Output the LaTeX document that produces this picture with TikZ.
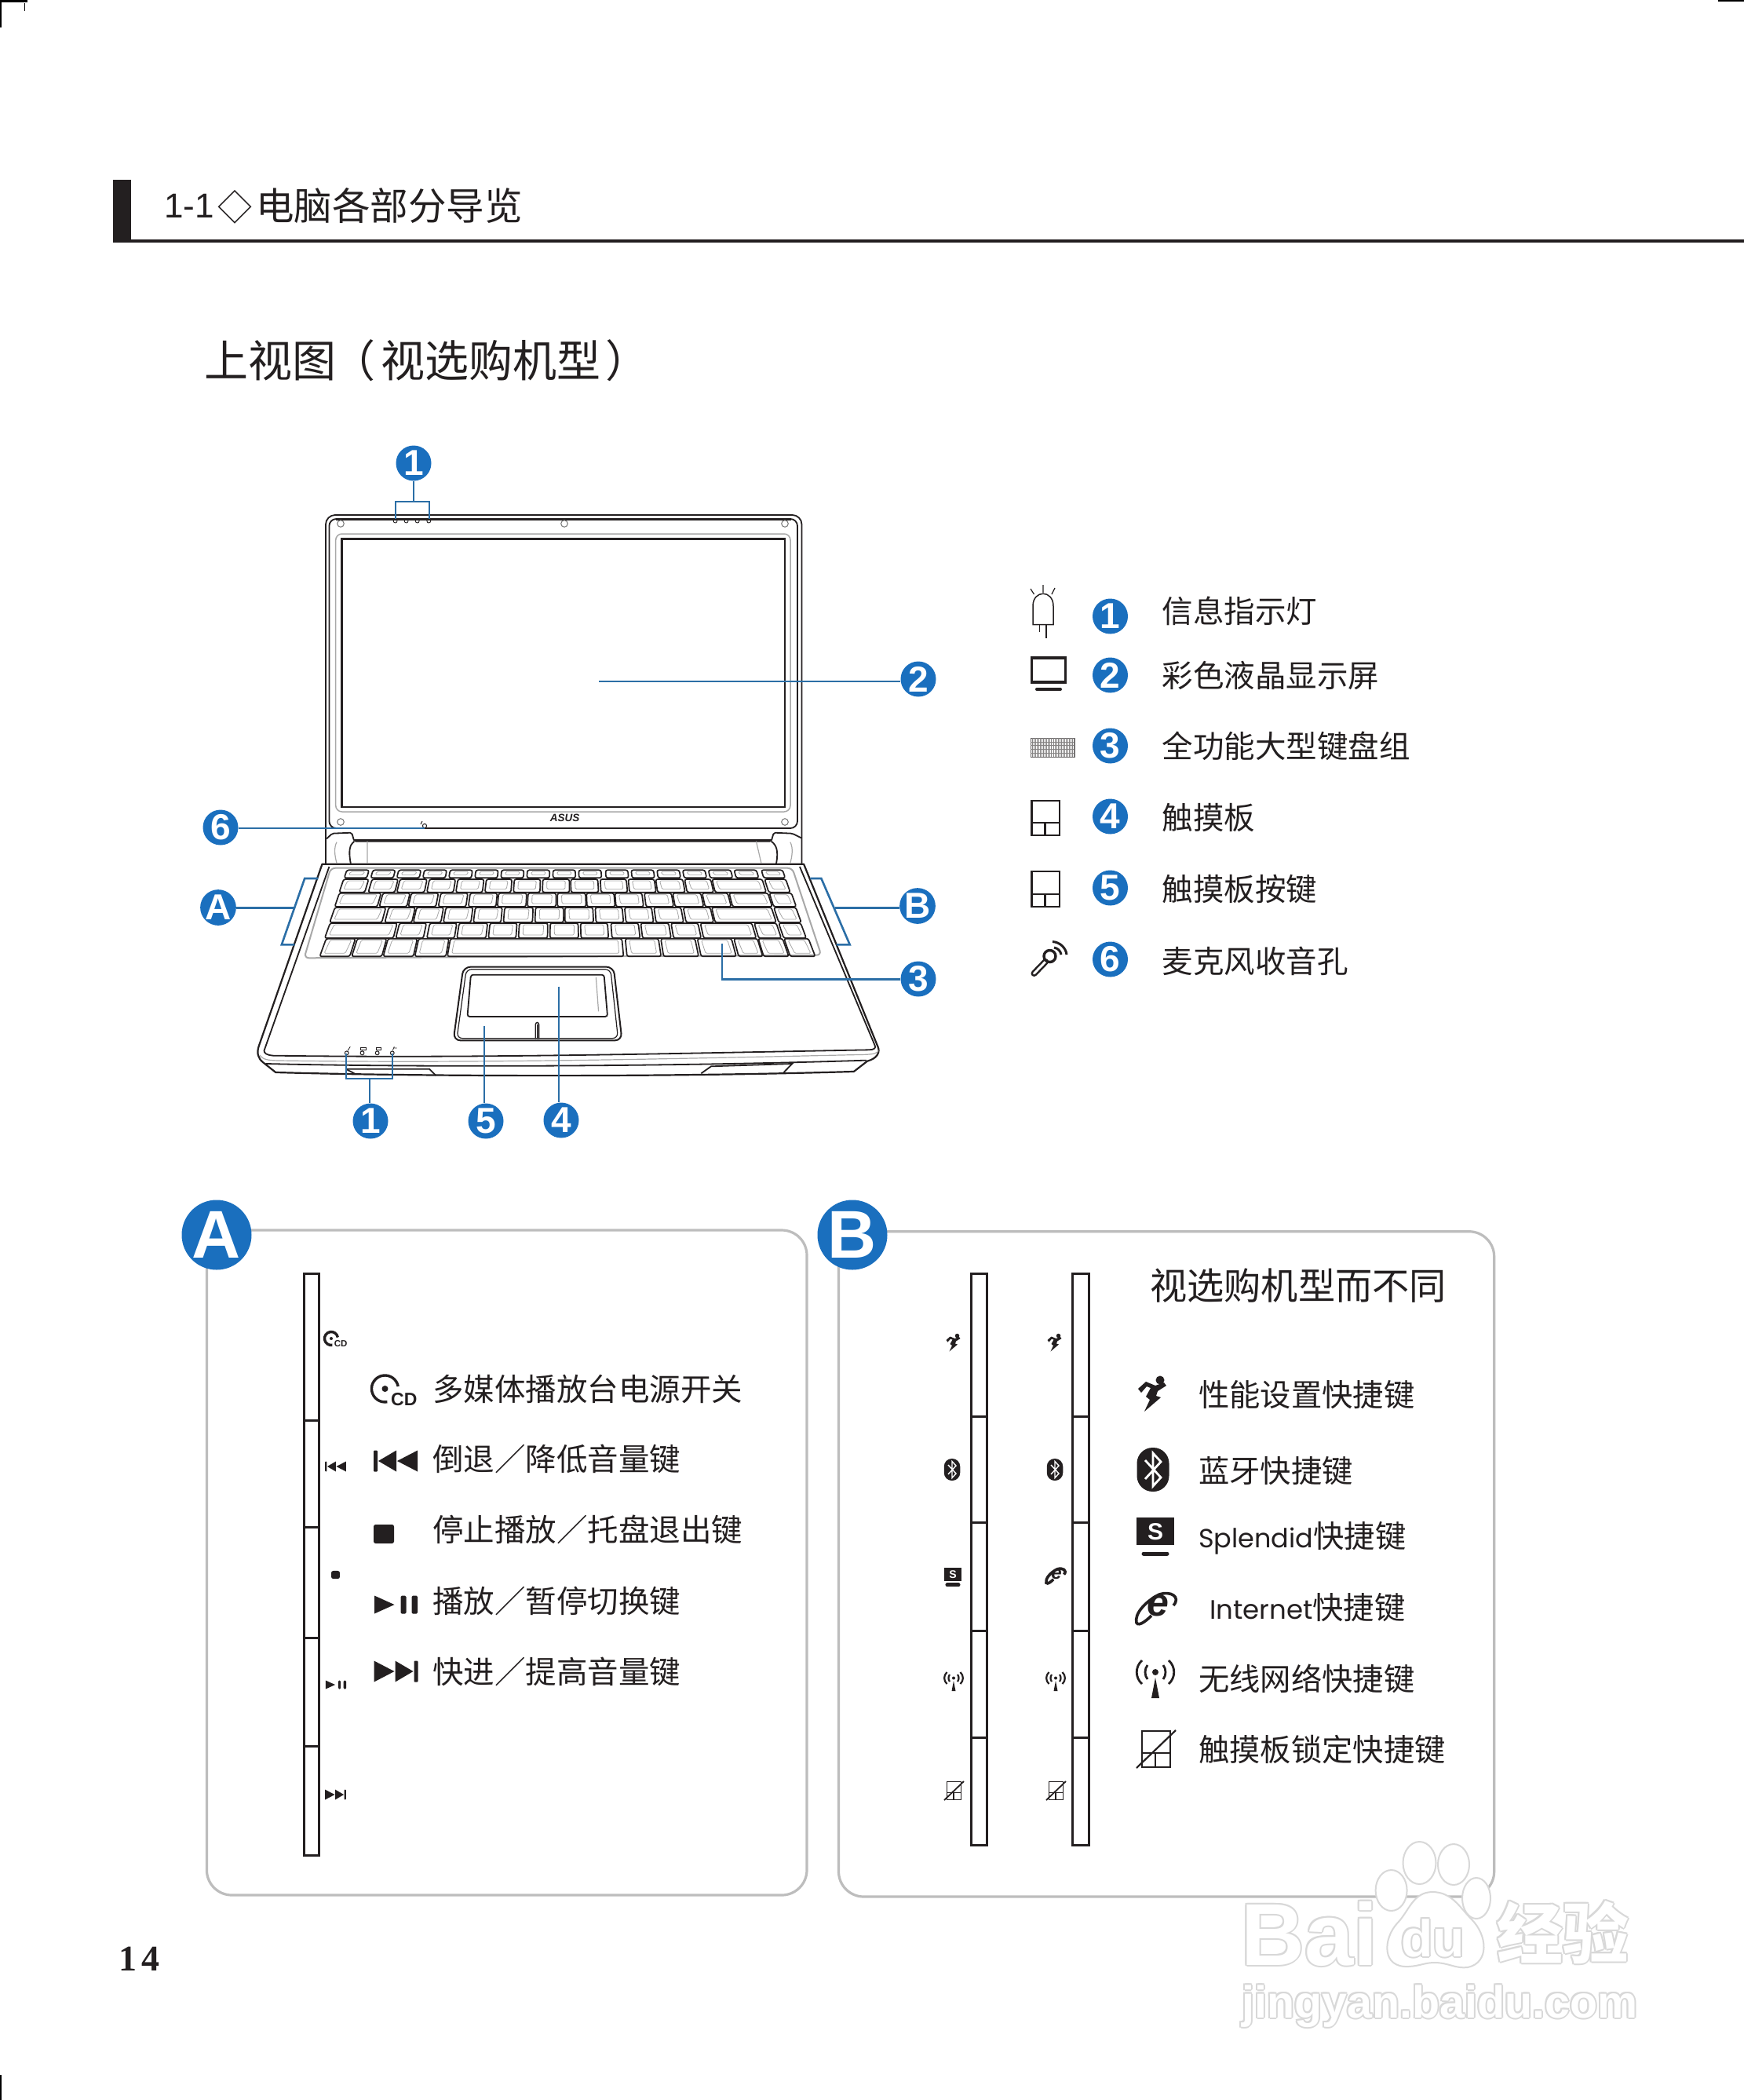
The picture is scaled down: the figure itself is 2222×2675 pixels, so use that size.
\documentclass[tikz,border=0pt]{standalone}
\usepackage{fontspec}
\setmainfont{Liberation Sans}
\newfontfamily\cjk{Noto Sans CJK SC}
\newfontfamily\lser{Liberation Serif}
\newfontfamily\lsans{Liberation Sans}
\newfontfamily\popp{Poppins}
\newcommand\fs[1]{\fontsize{#1}{#1}\selectfont}
\definecolor{bbl}{HTML}{1A6FBE}
\definecolor{lbl}{HTML}{2B6EA6}
\definecolor{ink}{HTML}{231F20}
\definecolor{pan}{HTML}{BDBDBD}
\definecolor{kg}{HTML}{A8A8A8}
\definecolor{wm}{HTML}{D8D8D8}
\tikzset{
  txt/.style={anchor=base west,inner sep=0pt,text=ink},
  badge/.style={circle,fill=bbl,inner sep=0pt,minimum size=45pt,text=white,font=\lsans\bfseries\fs{46}},
  bigbadge/.style={circle,fill=bbl,inner sep=0pt,minimum size=89pt,text=white,font=\lsans\bfseries\fs{86}},
  conn/.style={draw=lbl,line width=2.6pt},
  panel/.style={draw=pan,line width=3.2pt,rounded corners=32pt},
  strip/.style={draw=ink,line width=3pt},
  lap/.style={draw=ink,line width=1.8pt},
  lapg/.style={draw=kg,line width=1.2pt},
  keyo/.style={draw=ink,line width=1.7pt,rounded corners=2.5pt},
  keyi/.style={draw=kg,line width=.8pt,rounded corners=1.5pt},
  zz/.style={xshift=230pt,yshift=-1040pt,x=0.6378pt,y=-0.3333pt},
}
\newcommand\lab[5]{\pgfmathsetmacro\py{#3+0.37*#4}\node[txt] (#1) at (#2,\py) {\cjk\fs{#4}#5};}
\newcommand\keyrow[3]{\foreach \a/\b in {#3}{%
  \pgfmathsetmacro\ta{760+(\a-760)*(1-(#2-#1)*0.0004)}%
  \pgfmathsetmacro\tb{760+(\b-760)*(1-(#2-#1)*0.0004)}%
  \draw[keyo] (\ta,#1) -- (\tb,#1) -- (\b,#2) -- (\a,#2) -- cycle;
  \draw[keyi] (\ta+8,#1+6) -- (\tb-8,#1+6) -- (\b-9,#2-12) -- (\a+9,#2-12) -- cycle;
}}
% icons: origin at centre, sizes in px at legend size
\newcommand\icCD[3]{\begin{scope}[shift={(#1,#2)},scale=#3,transform shape]
  \draw[ink,line width=3.4pt] (6.7,-5) arc[start angle=10,end angle=280,radius=17pt];
  \fill[ink] (-10,-2) circle[radius=4pt];
  \node[inner sep=0pt,anchor=base west,text=ink] (cd#1) at (-2.5,19) {\lsans\bfseries\fs{23}CD};
\end{scope}}
\newcommand\icRew[3]{\begin{scope}[shift={(#1,#2)},scale=#3]
  \fill[ink,rounded corners=1pt] (-28,-13.5) rectangle (-23,13.5);
  \fill[ink] (-22,0) -- (1,-13.5) -- (1,13.5) -- cycle;
  \fill[ink] (2,0) -- (28,-13.5) -- (28,13.5) -- cycle;
\end{scope}}
\newcommand\icFF[3]{\begin{scope}[shift={(#1,#2)},scale=#3]
  \fill[ink,rounded corners=1pt] (28,-13.5) rectangle (23,13.5);
  \fill[ink] (22,0) -- (-1,-13.5) -- (-1,13.5) -- cycle;
  \fill[ink] (-2,0) -- (-28,-13.5) -- (-28,13.5) -- cycle;
\end{scope}}
\newcommand\icStop[3]{\begin{scope}[shift={(#1,#2)},scale=#3]
  \fill[ink,rounded corners=2.5pt] (-13,-12) rectangle (13,12);
\end{scope}}
\newcommand\icPP[3]{\begin{scope}[shift={(#1,#2)},scale=#3]
  \fill[ink] (-27.5,-11.5) -- (-2,0) -- (-27.5,11.5) -- cycle;
  \fill[ink,rounded corners=1.5pt] (6,-11.5) rectangle (13,11.5);
  \fill[ink,rounded corners=1.5pt] (20,-11.5) rectangle (27.5,11.5);
\end{scope}}
\newcommand\icRun[3]{\begin{scope}[shift={(#1,#2)},scale=#3]
  \fill[ink] (9,-17) circle[radius=5.5pt];
  \fill[ink] (-19,-6) -- (-9,-15) -- (3,-10) -- (14,-14) -- (17,-10) -- (6,-3) -- (4,3) -- (10,5) -- (-11,23) -- (-4,8) -- (-9,4) -- (-3,-7) -- (-8,-9) -- (-15,-1) -- cycle;
\end{scope}}
\newcommand\icBT[3]{\begin{scope}[shift={(#1,#2)},scale=#3]
  \fill[ink,rounded corners=#3*20pt] (-20.5,-28) rectangle (20.5,28);
  \draw[white,line width=#3*2.8pt] (-10,-12) -- (10,10) -- (0,21) -- (0,-21) -- (10,-10) -- (-10,12);
\end{scope}}
\newcommand\icS[3]{\begin{scope}[shift={(#1,#2)},scale=#3,transform shape]
  \fill[ink] (-24,-27) rectangle (24,8);
  \draw[ink,line width=5pt,line cap=round] (-15,19) -- (15,19);
  \node[inner sep=0pt,text=white] (s#1) at (0,-9) {\lsans\bfseries\fs{30}S};
\end{scope}}
\newcommand\icE[3]{\begin{scope}[shift={(#1,#2)},scale=#3,transform shape]
  \node[inner sep=0pt,text=ink] (e#1) at (2,-3) {\lsans\bfseries\itshape\fs{50}e};
  \draw[ink,line width=3.6pt] (22,-3) .. controls (32,-14) and (18,-22) .. (4,-17) .. controls (-14,-8) and (-28,8) .. (-25,19) .. controls (-22,25) and (-10,14) .. (-6,10);
\end{scope}}
\newcommand\icW[3]{\begin{scope}[shift={(#1,#2)},scale=#3]
  \fill[ink] (0,-9) circle[radius=4pt];
  \fill[ink] (0,-2) -- (-5,24) -- (5,24) -- cycle;
  \draw[ink,line width=#3*1.2pt+1.6pt] (-10,-18) .. controls (-14,-13) and (-14,-5) .. (-10,0);
  \draw[ink,line width=#3*1.2pt+1.6pt] (10,-18) .. controls (14,-13) and (14,-5) .. (10,0);
  \draw[ink,line width=#3*1.2pt+1.6pt] (-17,-24) .. controls (-26,-16) and (-26,-2) .. (-17,6);
  \draw[ink,line width=#3*1.2pt+1.6pt] (17,-24) .. controls (26,-16) and (26,-2) .. (17,6);
\end{scope}}
\newcommand\icL[3]{\begin{scope}[shift={(#1,#2)},scale=#3]
  \draw[ink,line width=#3*.8pt+1.4pt] (-17,-23) rectangle (19,23);
  \draw[ink,line width=#3*.8pt+1.4pt] (-17,5) -- (19,5) (0,5) -- (0,23);
  \draw[ink,line width=#3*.8pt+1.4pt] (-24,24) -- (26,-24);
\end{scope}}
\newcommand\wmt[5]{\foreach \dx/\dy [count=\wi] in {-2/0,2/0,0/-2,0/2,-1.5/-1.5,1.5/-1.5,-1.5/1.5,1.5/1.5}{
  \node[anchor=base west,inner sep=0pt,text=wm] (wm#1\wi) at (#2+\dx,#3+\dy) {#4#5};}
  \node[anchor=base west,inner sep=0pt,text=white] (wm#1) at (#2,#3) {#4#5};}
\begin{document}
\begin{tikzpicture}[x=1pt,y=-1pt]
\useasboundingbox (0,0) rectangle (2222,2675);
\fill[white] (0,0) rectangle (2222,2675);
% crop marks
\fill[black] (0,0) rectangle (35,2.5);
\fill[black] (0,0) rectangle (2,35);
\fill[black] (31,4) rectangle (32,14);
\fill[black] (2189,0) rectangle (2222,2);
\fill[black] (0,2643) rectangle (2,2675);
% header
\fill[ink] (144,229) rectangle (167,309);
\fill[ink] (144,305) rectangle (2222,309);
\node[txt] (head) at (209,277) {\lsans\fs{44}1-1};
\node[txt] (headd) at (277,280) {\cjk\fs{44}◇};
\node[txt] (headt) at (326,280) {\cjk\fs{48.5}电脑各部分导览};
\node[txt] (title) at (260,480) {\cjk\fs{56}上视图\kern-6pt（\kern7pt 视选购机型\kern6pt）};
% lid
\draw[lap,rounded corners=12pt] (415,1100) -- (415,656) -- (1021.5,656) -- (1021.5,1100);
\draw[lap,rounded corners=9pt] (419.4,661) rectangle (1016,1055);
\draw[ink,line width=3pt] (428,661) -- (1008,661);
\draw[lapg,rounded corners=8pt,line width=1.5pt] (427.7,680) rectangle (1007,1034);
\draw[ink,line width=2.6pt] (435.4,686.4) rectangle (1000,1028);
\foreach \cx/\cy [count=\i] in {434/667,719/667,1000/667,434/1047,1000/1047}{\draw[draw=kg!70!black,line width=1pt] (\cx,\cy) circle[radius=4.3pt];}
\foreach \cx in {503.6,517.6,531.7,546.3}{\draw[ink,line width=.9pt] (\cx,663.6) circle[radius=2.4pt];}
\draw[ink,line width=1pt] (541,1052) circle[radius=2.6pt] (536,1050) -- (538,1046);
\node[inner sep=0pt,text=ink] (asus) at (719.5,1041.5) {\lsans\bfseries\itshape\fs{13.5}ASUS};
% hinge, deck, keyboard
\begin{scope}[zz]
  \draw[lap,rounded corners=2pt] (292,85) -- (303,65) -- (342,62) -- (347,95) -- (1180,95) -- (1185,62) -- (1222,65) -- (1240,82);
  \draw[lap] (347,90) -- (1180,90);
  \draw[lap] (340,180) .. controls (335,130) and (338,108) .. (347,95);
  \draw[lap] (1190,180) .. controls (1195,130) and (1190,108) .. (1180,95);
  \draw[lapg] (373,95) -- (373,178) (1150,95) -- (1160,178);
  \draw[lapg] (312,98) .. controls (306,120) and (308,150) .. (312,178);
  \draw[lapg] (1218,98) .. controls (1224,120) and (1222,150) .. (1218,178);
  % deck
  \draw[ink,line width=2.2pt,line join=round] (283,182) -- (156,880) .. controls (152,905) and (155,925) .. (165,940) -- (190,978) .. controls (400,990) and (900,1000) .. (1345,975) -- (1372,935) .. controls (1392,925) and (1398,900) .. (1393,880) -- (1245,182) -- cycle;
  \draw[lap] (297,192) -- (167,895) .. controls (167,905) and (172,912) .. (185,914) .. controls (600,925) and (1000,905) .. (1375,892) .. controls (1385,892) and (1390,885) .. (1387,875) -- (1237,192);
  \draw[lapg] (158,912) .. controls (165,930) and (175,932) .. (195,933) .. controls (600,945) and (1000,925) .. (1370,910) .. controls (1385,908) and (1392,905) .. (1394,895);
  \draw[lap] (170,945) .. controls (500,960) and (1000,955) .. (1370,932);
  \draw[lap] (330,965) -- (497,965) -- (510,990);
  \draw[lap] (330,965) -- (350,985);
  \draw[lap] (1040,982) -- (1060,955) -- (1222,945) -- (1205,978);
  % keyboard well
  \draw[kg,line width=2pt,rounded corners=6pt] (300,197) -- (1222,197) -- (1280,530) -- (247,541) -- cycle;
  \keyrow{205}{235}{327/372,380/425,432/477,484/529,536/581,588/633,640/685,692/737,744/789,796/841,850/895,902/947,954/999,1006/1051,1058/1103,1110/1155,1165/1208}
  \keyrow{240}{290}{317/368,375/428,432/487,492/545,550/603,608/660,665/718,723/777,780/835,840/893,897/950,953/1008,1012/1065,1068/1170,1175/1218}
  \keyrow{293}{345}{308/393,397/452,455/510,515/570,575/630,633/690,693/750,753/810,812/868,870/925,930/985,988/1045,1048/1100,1103/1182,1185/1230}
  \keyrow{348}{405}{298/402,408/462,465/520,525/580,585/640,645/703,708/765,768/825,830/885,890/945,950/1005,1010/1065,1068/1190,1195/1240}
  \keyrow{408}{465}{288/425,430/485,492/547,552/610,615/670,675/733,738/795,800/855,862/918,923/980,985/1040,1045/1150,1155/1200,1205/1250}
  \keyrow{467}{535}{278/338,342/402,405/465,468/530,533/885,892/960,965/1035,1040/1110,1115/1163,1165/1215,1218/1268}
  % touchpad
  \draw[ink,line width=2pt,rounded corners=9pt] (565,575) -- (865,575) -- (882,856) -- (545,856) -- cycle;
  \draw[lap,line width=1.2pt,rounded corners=7pt] (571,584) -- (859,584) -- (874,848) -- (552,848) -- cycle;
  \draw[lap,rounded corners=3pt] (580,605) -- (846,605) -- (853,765) -- (573,765) -- cycle;
  \draw[lap,line width=1.4pt] (713,850) -- (713,795) (709,850) -- (709,795) .. controls (710,785) and (715,785) .. (716,795) -- (716,850);
  \draw[lapg] (830,615) -- (835,745);
  % indicator LEDs
  \foreach \cx in {332,363,393,423}{\draw[ink,line width=1pt] (\cx,904) circle[radius=2.4pt];}
  \draw[ink,line width=.8pt] (334,895) -- (339,880);
  \draw[ink,line width=.8pt] (360,893) rectangle (370,882);
  \draw[ink,line width=.8pt] (391,893) rectangle (400,882);
  \draw[ink,line width=.8pt] (424,893) -- (427,880) (427,885) -- (432,885);
  % connector end points
  \coordinate (c3a) at (1082,485);
  \coordinate (c3b) at (1082,622);
  \coordinate (c4a) at (755,650);
  \coordinate (c5a) at (606,800);
  \coordinate (c1bL) at (331,905);
  \coordinate (c1bR) at (423,905);
  \coordinate (c1bM) at (378,1003);
  \coordinate (cAa) at (275,237);
  \coordinate (cAb) at (248,237);
  \coordinate (cAc) at (202,490);
  \coordinate (cAd) at (228,490);
  \coordinate (cAm) at (225,349);
  \coordinate (cBa) at (1258,237);
  \coordinate (cBb) at (1280,237);
  \coordinate (cBc) at (1337,490);
  \coordinate (cBd) at (1310,490);
  \coordinate (cBm) at (1308,349);
\end{scope}
% badges around laptop
\node[badge] (b1t) at (527,590) {1};
\node[badge] (b2) at (1170,865) {2};
\node[badge] (b3) at (1170,1247) {3};
\node[badge] (b4) at (715,1427) {4};
\node[badge] (b5) at (619,1428) {5};
\node[badge] (b6) at (281,1054) {6};
\node[badge] (b1b) at (472,1428) {1};
\node[badge] (bA) at (278,1156) {A};
\node[badge] (bB) at (1169,1154) {B};
\coordinate (c1tL) at (503.6,661);
\coordinate (c1tR) at (547,661);
\coordinate (c1tM) at (526.5,638.6);
\coordinate (c2) at (763,868);
\coordinate (c6) at (541,1055);
\draw[conn,line width=2pt] (c1tL) -- (c1tL |- c1tM) -- (c1tR |- c1tM) -- (c1tR);
\draw[conn,line width=2pt] (c1tM) -- (c1tM |- b1t.south);
\draw[conn] (c2) -- (c2 -| b2.west);
\draw[conn] (c6) -- (c6 -| b6.east);
\draw[conn] (c3a) -- (c3b) -- (c3b -| b3.west);
\draw[conn,line width=2pt] (c4a) -- (c4a |- b4.north);
\draw[conn,line width=2pt] (c5a) -- (c5a |- b5.north);
\draw[conn,line width=2pt] (c1bL) -- (c1bL |- c1bM) -- (c1bR |- c1bM) -- (c1bR);
\draw[conn,line width=2pt] (c1bM) -- (c1bM |- b1b.north);
\draw[conn] (cAa) -- (cAb) -- (cAc) -- (cAd);
\draw[conn] (cAm) -- (cAm -| bA.east);
\draw[conn] (cBa) -- (cBb) -- (cBc) -- (cBd);
\draw[conn] (cBm) -- (cBm -| bB.west);
% legend top right
\foreach \nm/\yy/\ch in {l1/785/1,l2/860/2,l3/950/3,l4/1040/4,l5/1131/5,l6/1222/6}{\node[badge] (\nm) at (1414.5,\yy) {\ch};}
\lab{t1}{1480.5}{779}{39.5}{信息指示灯}
\lab{t2}{1480.5}{861}{39.5}{彩色液晶显示屏}
\lab{t3}{1480.5}{951}{39.5}{全功能大型键盘组}
\lab{t4}{1480.5}{1042}{39.5}{触摸板}
\lab{t5}{1480.5}{1133}{39.5}{触摸板按键}
\lab{t6}{1480.5}{1225}{39.5}{麦克风收音孔}
% LED icon
\draw[ink,line width=1.5pt] (1316,795.5) -- (1316,772) .. controls (1316,751) and (1342,751) .. (1342,772) -- (1342,795.5) -- cycle;
\draw[ink,line width=1.2pt] (1329,745) -- (1329,755) (1313,750) -- (1317.5,757) (1344,749) -- (1340,757);
\draw[ink,line width=1.2pt] (1324.5,795.5) -- (1324.5,805) (1333,795.5) -- (1333,813);
% monitor icon
\draw[ink,line width=3.4pt] (1314.5,838) rectangle (1357.5,869);
\draw[ink,line width=4pt,line cap=round] (1321,878) -- (1351,878);
% keyboard icon
\draw[ink!70,line width=.6pt] (1313,940) rectangle (1369,964);
\foreach \i in {1,...,27}{\draw[ink!55,line width=.35pt] (1313+\i*2.05,940) -- (1313+\i*2.05,964);}
\foreach \i in {1,...,4}{\draw[ink!55,line width=.4pt] (1313,940+\i*4.8) -- (1369,940+\i*4.8);}
% pad icons
\draw[ink,line width=2.8pt] (1314.5,1020) rectangle (1350,1064);
\draw[ink,line width=2.8pt] (1314.5,1048) -- (1350,1048) (1331.5,1048) -- (1331.5,1064);
\draw[ink,line width=2.8pt] (1314.5,1110) rectangle (1350,1155);
\draw[ink,line width=2.8pt] (1314.5,1139) -- (1350,1139) (1331.5,1139) -- (1331.5,1155);
% mic icon
\draw[ink,line width=8pt,line cap=round] (1317.5,1240) -- (1332,1225);
\draw[white,line width=3pt,line cap=round] (1317.5,1240) -- (1332,1225);
\draw[ink,line width=3.4pt] (1337.5,1218) circle[radius=7.5pt];
\draw[ink,line width=3pt] (1343,1207) .. controls (1348,1208) and (1351,1211) .. (1352,1216);
\draw[ink,line width=3pt] (1341,1199.5) .. controls (1350,1200) and (1358,1207) .. (1359,1216);
% panel A
\draw[panel] (263.4,1567) rectangle (1028,2414);
\node[bigbadge] (bigA) at (276,1573) {A};
\draw[strip] (387.5,1622.7) rectangle (406.5,2363);
\foreach \yy in {1809,1945.5,2086,2224}{\draw[strip] (387.5,\yy) -- (406.5,\yy);}
\icCD{427}{1706}{.5}
\icRew{427.5}{1868}{.48}
\icStop{427.5}{2006}{.42}
\icPP{428}{2146}{.48}
\icFF{427.5}{2286}{.48}
\icCD{500.5}{1771}{1}
\icRew{504}{1861}{1}
\icStop{489}{1954}{1}
\icPP{504.5}{2044}{1}
\icFF{504.5}{2129}{1}
\lab{a1}{551}{1770}{39.5}{多媒体播放台电源开关}
\lab{a2}{551}{1859}{39.5}{倒退／降低音量键}
\lab{a3}{551}{1949}{39.5}{停止播放／托盘退出键}
\lab{a4}{551}{2040}{39.5}{播放／暂停切换键}
\lab{a5}{551}{2130}{39.5}{快进／提高音量键}
% panel B
\draw[panel] (1068.5,1568.7) rectangle (1903.7,2416);
\node[bigbadge] (bigB) at (1086,1573) {B};
\foreach \xa/\xb in {1237/1257,1366/1387}{
  \draw[strip] (\xa,1622.7) rectangle (\xb,2350);
  \foreach \yy in {1804.6,1939.6,2077.5,2213.7}{\draw[strip] (\xa,\yy) -- (\xb,\yy);}
}
\icRun{1215}{1710}{.5}
\icBT{1213}{1872}{.5}
\icS{1214}{2010}{.47}
\icW{1215}{2142}{.5}
\icL{1215}{2281}{.5}
\icRun{1344}{1710}{.5}
\icBT{1344}{1872}{.5}
\icE{1345}{2007}{.48}
\icW{1345}{2142}{.5}
\icL{1345}{2281}{.5}
\icRun{1469}{1775}{1}
\icBT{1469}{1872}{1}
\icS{1472}{1960}{1}
\icE{1473}{2048}{1}
\icW{1472}{2139}{1}
\icL{1472}{2228}{1}
\lab{bh}{1465}{1638}{47.2}{视选购机型而不同}
\lab{b1x}{1527}{1777}{39.3}{性能设置快捷键}
\lab{b2x}{1527}{1874}{39.3}{蓝牙快捷键}
\pgfmathsetmacro\py{1957+0.37*39.3}
\node[txt] (b3x) at (1527,\py) {\popp\fs{33.5}Splendid\cjk\fs{39.3}快捷键};
\pgfmathsetmacro\py{2048+0.37*39.3}
\node[txt] (b4x) at (1541,\py) {\popp\fs{34}Internet\cjk\fs{39.3}快捷键};
\lab{b5x}{1527}{2139}{39.3}{无线网络快捷键}
\lab{b6x}{1527}{2229}{39.3}{触摸板锁定快捷键}
% page number
\node[txt] (pg) at (151,2510) {\lser\bfseries\fs{46}1\kern6pt 4};
% watermark
\wmt{a}{1581}{2503}{\lsans\bfseries\fs{112}}{Bai}
\draw[wm,line width=2pt,fill=white] (1808.5,2373) ellipse[x radius=21pt,y radius=27pt];
\draw[wm,line width=2pt,fill=white] (1852,2375) ellipse[x radius=20pt,y radius=26pt];
\draw[wm,line width=2pt,fill=white] (1772.6,2408) ellipse[x radius=20pt,y radius=26pt];
\draw[wm,line width=2pt,fill=white] (1881,2418) ellipse[x radius=18pt,y radius=26pt];
\draw[wm,line width=2pt,fill=white] (1825,2410) .. controls (1800,2410) and (1795,2435) .. (1780,2450) .. controls (1762,2470) and (1760,2507) .. (1795,2505) .. controls (1810,2504) and (1815,2500) .. (1828,2500) .. controls (1845,2500) and (1855,2508) .. (1870,2506) .. controls (1898,2500) and (1895,2465) .. (1875,2445) .. controls (1860,2430) and (1850,2410) .. (1825,2410) -- cycle;
\wmt{b}{1785}{2492}{\lsans\bfseries\fs{66}}{du}
\wmt{c}{1907}{2494}{\cjk\bfseries\fs{84}}{经验}
\wmt{d}{1582}{2570}{\lsans\bfseries\fs{57.4}}{jingyan.baidu.com}
\end{tikzpicture}
\end{document}
